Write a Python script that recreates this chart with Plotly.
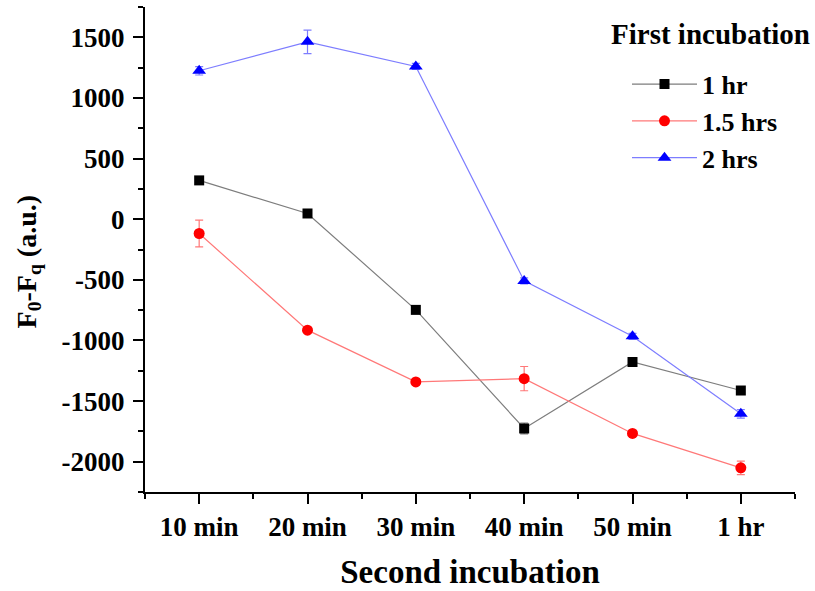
import plotly.graph_objects as go

categories = ["10 min", "20 min", "30 min", "40 min", "50 min", "1 hr"]
x_pos = [0, 1, 2, 3, 4, 5]

series_names = ["1 hr", "1.5 hrs", "2 hrs"]
y_1hr = [320, 47, -748, -1726, -1178, -1413]
e_1hr = [20, 20, 20, 45, 20, 25]
y_15hrs = [-118, -915, -1342, -1315, -1767, -2051]
e_15hrs = [110, 20, 20, 100, 20, 55]
y_2hrs = [1224, 1463, 1260, -509, -966, -1605]
e_2hrs = [35, 97, 25, 25, 25, 35]

y_tickvals = [-2000, -1500, -1000, -500, 0, 500, 1000, 1500]
y_ticktext = ["-2000", "-1500", "-1000", "-500", "0", "500", "1000", "1500"]

FONT = "Liberation Serif"

# plot area in pixels
L, R, T, B = 145, 795, 7, 495
W, H = R - L, B - T

specs = [
    (series_names[0], y_1hr, e_1hr, "black", "rgba(125,125,125,1)", "square", 10),
    (series_names[1], y_15hrs, e_15hrs, "red", "rgba(255,120,120,1)", "circle", 11),
    (series_names[2], y_2hrs, e_2hrs, "blue", "rgba(125,125,255,1)", "triangle-up", 12),
]

fig = go.Figure()
for name, ys, es, mc, lc, sym, sz in specs:
    fig.add_trace(go.Scatter(
        x=x_pos, y=ys, name=name, mode="lines+markers",
        line=dict(color=lc, width=1.2),
        marker=dict(color=mc, symbol=sym, size=sz),
        error_y=dict(type="data", array=es, visible=True, color=lc, thickness=1.2, width=4),
    ))

fig.update_layout(
    width=815, height=591,
    margin=dict(l=L, r=815 - R, t=T, b=591 - B),
    paper_bgcolor="white", plot_bgcolor="white",
    font=dict(family=FONT, color="black"),
    showlegend=True,
    legend=dict(
        x=(627 - L) / W, y=(B - 61) / H, xanchor="left", yanchor="top",
        font=dict(family=FONT, size=26, color="black", weight="bold"),
        bgcolor="rgba(0,0,0,0)", tracegroupgap=0, itemwidth=65,
    ),
    annotations=[
        dict(text="<b>First incubation</b>", x=(710 - L) / W, y=(B - 34) / H,
             xref="paper", yref="paper", xanchor="center", yanchor="middle",
             showarrow=False, font=dict(family=FONT, size=29, color="black")),
        dict(text="<b>F<sub>0</sub>-F<sub>q</sub> (a.u.)</b>", x=(28 - L) / W, y=(B - 264) / H,
             xref="paper", yref="paper", xanchor="center", yanchor="middle", textangle=-90,
             showarrow=False, font=dict(family=FONT, size=28, color="black")),
    ],
)

fig.update_xaxes(
    range=[-0.5, 5.5], tickmode="array", tickvals=x_pos, ticktext=categories,
    showline=True, linecolor="black", linewidth=2, mirror=False,
    ticks="outside", ticklen=10, tickwidth=2, tickcolor="black",
    minor=dict(tickmode="linear", tick0=-0.5, dtick=1, ticks="outside", ticklen=5, tickwidth=2, tickcolor="black"),
    showgrid=False, zeroline=False,
    tickfont=dict(family=FONT, size=27, color="black", weight="bold"),
    title=dict(text="<b>Second incubation</b>", font=dict(family=FONT, size=33, color="black"), standoff=18),
)
fig.update_yaxes(
    range=[-2250, 1750], tickmode="array", tickvals=y_tickvals, ticktext=y_ticktext,
    showline=True, linecolor="black", linewidth=2,
    ticks="outside", ticklen=10, tickwidth=2, tickcolor="black",
    minor=dict(tickmode="linear", tick0=-2250, dtick=250, ticks="outside", ticklen=5, tickwidth=2, tickcolor="black"),
    showgrid=False, zeroline=False, ticklabelstandoff=3,
    tickfont=dict(family=FONT, size=27, color="black", weight="bold"),
)

fig.write_html("out.html")
